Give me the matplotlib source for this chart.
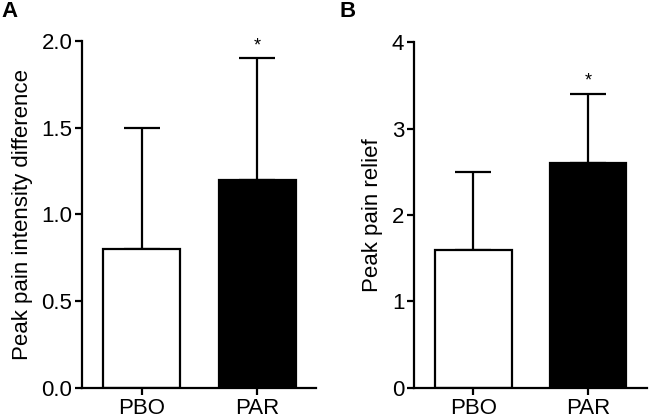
import numpy as np
import matplotlib
matplotlib.use('Agg')
from matplotlib import pyplot as plt

plt.rcParams['font.family'] = ['Liberation Sans', 'DejaVu Sans']

groups = ['PBO', 'PAR']
intensity_mean = [0.8, 1.2]
intensity_err = [0.7, 0.7]
relief_mean = [1.6, 2.6]
relief_err = [0.9, 0.8]
bar_colors = ['white', 'black']

fig = plt.figure(figsize=(6.52, 4.18), dpi=100)
axA = fig.add_axes([0.1258, 0.0718, 0.3589, 0.8301])
axB = fig.add_axes([0.635, 0.0718, 0.357, 0.8277])

def panel(ax, means, errs, ylim, ticks, ticklabels, ylabel):
	x = np.arange(len(groups))
	ax.bar(x, means, width=0.667, color=bar_colors, edgecolor='black', linewidth=1.6, zorder=2)
	ax.errorbar(x, means, yerr=[np.zeros(len(errs)), errs], fmt='none', ecolor='black',
		elinewidth=1.6, capsize=13, capthick=1.6, zorder=1)
	ax.text(x[1], means[1] + errs[1] + ylim[1]*0.012, '*', ha='center', va='bottom', fontsize=13)
	ax.set_xlim(-0.515, 1.51)
	ax.set_ylim(*ylim)
	ax.set_yticks(ticks)
	ax.set_yticklabels(ticklabels)
	ax.set_xticks(x)
	ax.set_xticklabels(groups)
	ax.set_ylabel(ylabel, fontsize=16, labelpad=6)
	ax.spines['top'].set_visible(False)
	ax.spines['right'].set_visible(False)
	for s in ['left', 'bottom']:
		ax.spines[s].set_linewidth(1.6)
	ax.tick_params(width=1.6, length=5, labelsize=16, pad=2)

panel(axA, intensity_mean, intensity_err, (0, 2.0), [0, 0.5, 1.0, 1.5, 2.0],
	['0.0', '0.5', '1.0', '1.5', '2.0'], 'Peak pain intensity difference')
panel(axB, relief_mean, relief_err, (0, 4), [0, 1, 2, 3, 4],
	['0', '1', '2', '3', '4'], 'Peak pain relief')

fig.text(0.002, 0.997, 'A', fontsize=16, fontweight='bold', va='top', ha='left')
fig.text(0.52, 0.997, 'B', fontsize=16, fontweight='bold', va='top', ha='left')

fig.savefig('out.png', dpi=100)
